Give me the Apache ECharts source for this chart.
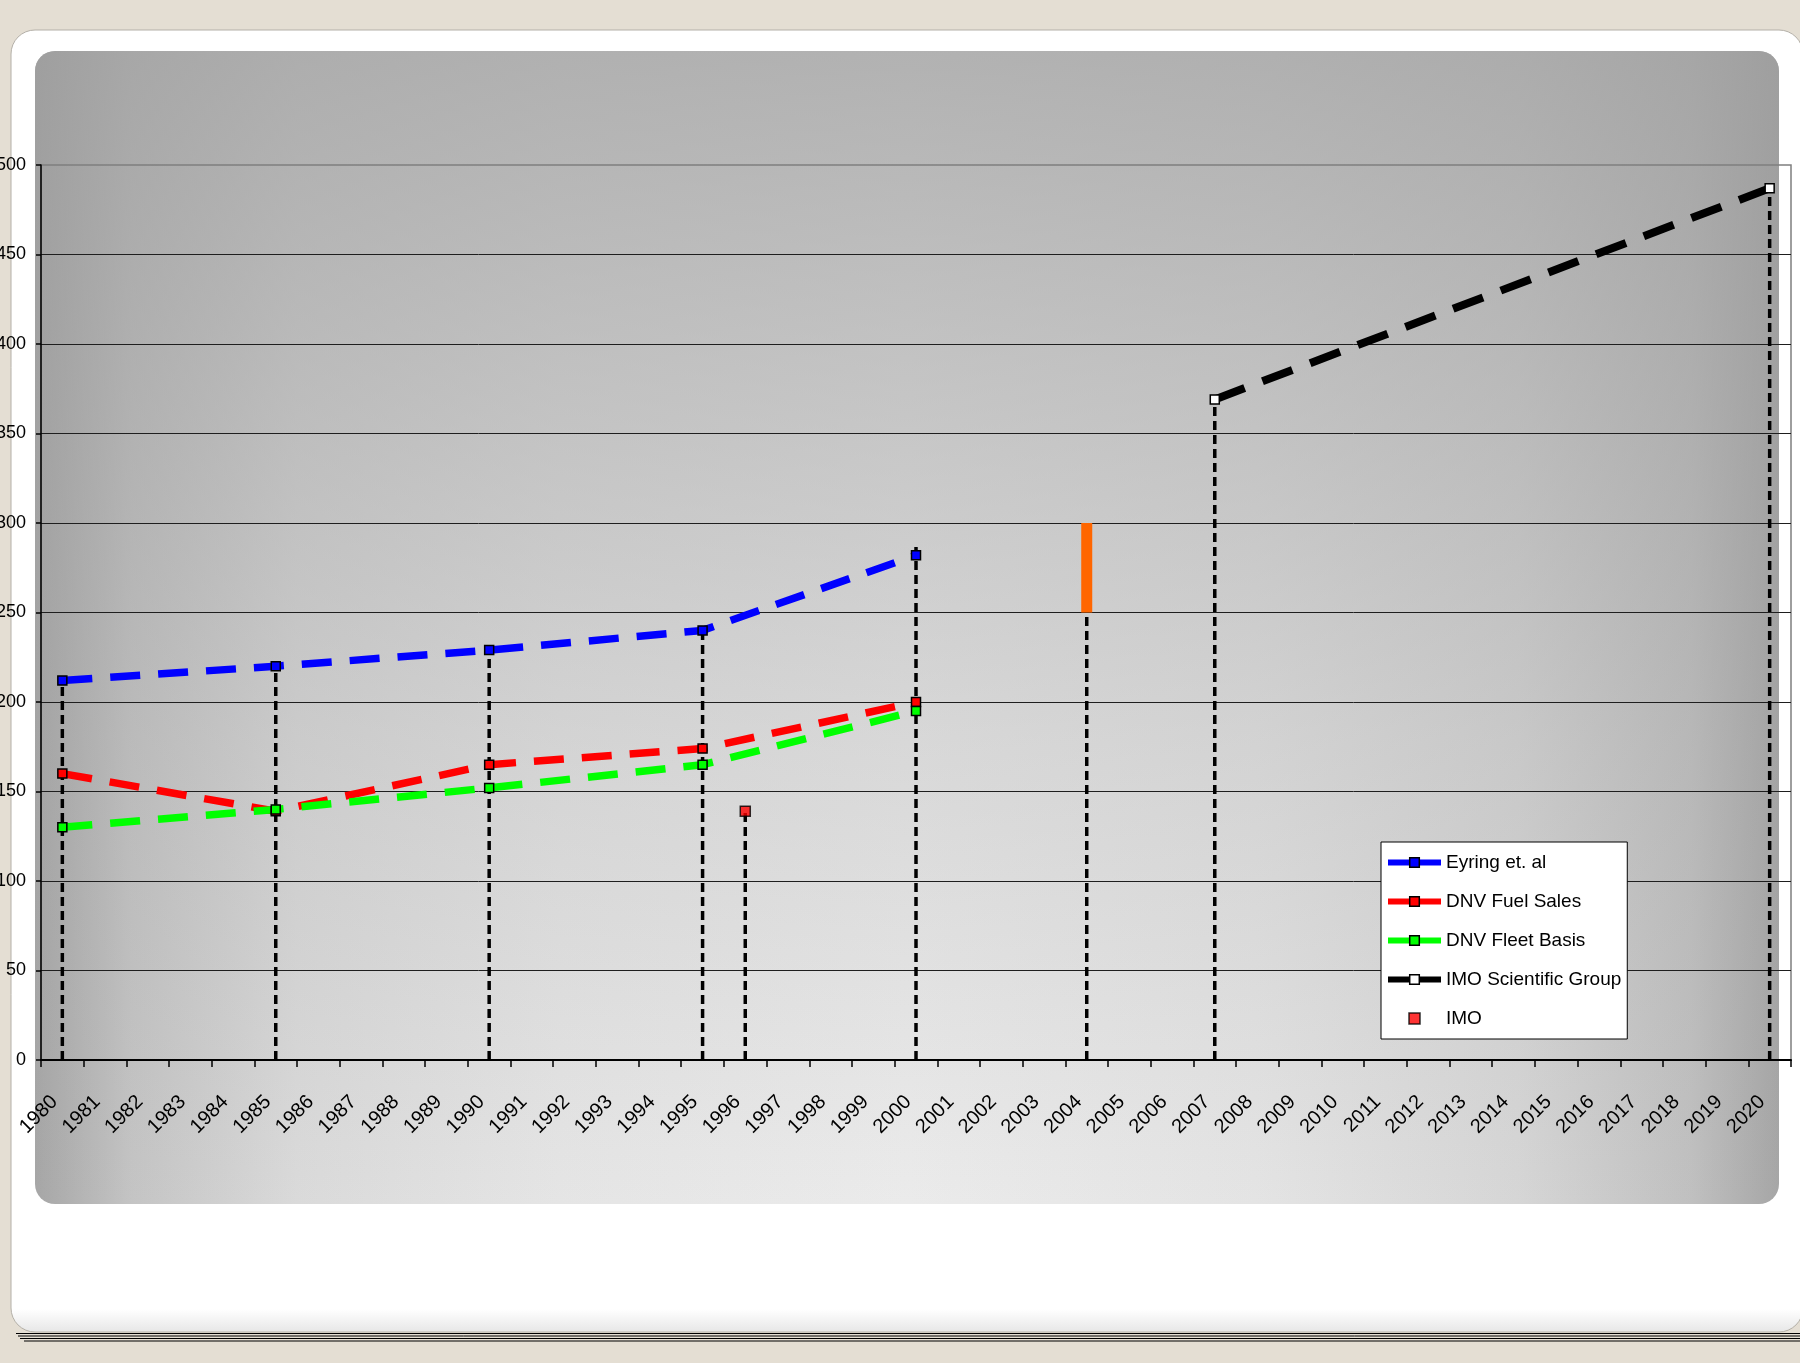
<!DOCTYPE html>
<html><head><meta charset="utf-8">
<script src="https://cdn.jsdelivr.net/npm/echarts@6/dist/echarts.min.js"></script>
<style>html,body{margin:0;padding:0;background:#e4ded3;}#c{width:1800px;height:1363px;}</style>
</head><body><div id="c"></div>
<script>
// ---- data ----
const years = ['1980','1981','1982','1983','1984','1985','1986','1987','1988','1989','1990','1991','1992','1993','1994','1995','1996','1997','1998','1999','2000','2001','2002','2003','2004','2005','2006','2007','2008','2009','2010','2011','2012','2013','2014','2015','2016','2017','2018','2019','2020'];
const studyYears = ['1980','1985','1990','1995','2000'];
const eyring = [212, 220, 229, 240, 282];
const dnvFuelSales = [160, 139, 165, 174, 200];
const dnvFleetBasis = [130, 140, 152, 165, 195];
const imoSciYears = ['2007','2020'];
const imoSci = [369, 487];
const imoYears = ['1996'];
const imo = [139];
const imoRangeYears = ['2004','2004'];
const imoRange = [250, 300];
const dropYears = ['1980','1985','1990','1995','1996','2000','2004','2007','2020'];
const dropTops = [213, 220, 231, 241, 139, 289, 250, 369, 487];
const yMin = 0, yMax = 500, yStep = 50;

// ---- chart ----
const chart = echarts.init(document.getElementById('c'), null, {renderer: 'canvas'});
const sans = "'Liberation Sans',Arial,sans-serif";
const pairs = (xs, vs) => xs.map((x, i) => [x, vs[i]]);

const dropSeries = dropYears.map((y, i) => ({
  type: 'line', name: 'drop' + i, data: [[y, 0], [y, dropTops[i]]],
  symbol: 'none', silent: true, z: 2,
  lineStyle: {color: '#000', width: 3.5, type: [9, 5], cap: 'butt'}
}));

function dataLine(name, xs, vs, color, fill, dash, width) {
  return {
    type: 'line', name: name, data: pairs(xs, vs), z: 3,
    symbol: 'rect', symbolSize: 9, showAllSymbol: true,
    lineStyle: {color: color, width: width, type: dash, cap: 'butt'},
    itemStyle: {color: fill, borderColor: '#000', borderWidth: 1.5}
  };
}

const bgGraphics = [
  {type: 'rect', z: -20, silent: true, shape: {x: 11, y: 30, width: 1792, height: 1302, r: 24},
   style: {fill: new echarts.graphic.LinearGradient(0, 0, 0, 1, [
     {offset: 0, color: '#ffffff'}, {offset: 0.982, color: '#ffffff'}, {offset: 1, color: '#e6e6e6'}]),
     stroke: '#b4b0a8', lineWidth: 1}},
  {type: 'line', z: -21, silent: true, shape: {x1: 16, y1: 1333.5, x2: 1800, y2: 1333.5}, style: {stroke: '#000', lineWidth: 1}},
  {type: 'line', z: -21, silent: true, shape: {x1: 18, y1: 1336, x2: 1800, y2: 1336}, style: {stroke: '#000', lineWidth: 1}},
  {type: 'line', z: -21, silent: true, shape: {x1: 20, y1: 1338.5, x2: 1800, y2: 1338.5}, style: {stroke: '#000', lineWidth: 1}},
  {type: 'line', z: -21, silent: true, shape: {x1: 24, y1: 1341, x2: 1800, y2: 1341}, style: {stroke: '#000', lineWidth: 1}},
  {type: 'rect', z: -19, silent: true, shape: {x: 35, y: 51, width: 1744, height: 1153, r: 20},
   style: {fill: new echarts.graphic.LinearGradient(0, 0, 1, 0, [
     {offset: 0, color: '#a6a6a6'}, {offset: 0.055, color: '#c4c4c4'}, {offset: 0.15, color: '#dadada'},
     {offset: 0.3, color: '#e5e5e5'}, {offset: 0.5, color: '#ebebeb'}, {offset: 0.7, color: '#e4e4e4'},
     {offset: 0.85, color: '#d6d6d6'}, {offset: 0.95, color: '#c0c0c0'}, {offset: 1, color: '#a6a6a6'}])}},
  {type: 'rect', z: -18, silent: true, shape: {x: 35, y: 51, width: 1744, height: 1153, r: 20},
   style: {fill: new echarts.graphic.LinearGradient(0, 0, 0, 1, [
     {offset: 0, color: 'rgba(156,156,156,0.72)'}, {offset: 0.6, color: 'rgba(156,156,156,0.24)'}, {offset: 1, color: 'rgba(156,156,156,0)'}])}}
];

const option = {
  animation: false,
  backgroundColor: '#e4ded3',
  graphic: bgGraphics,
  grid: {left: 41, right: 9, top: 165, bottom: 303, show: true, borderColor: '#7f7f7f', borderWidth: 1.5,
         backgroundColor: 'transparent', containLabel: false, outerBoundsMode: 'none'},
  legend: {
    orient: 'vertical', left: 1381, top: 842,
    data: ['Eyring et. al', 'DNV Fuel Sales', 'DNV Fleet Basis', 'IMO Scientific Group',
           {name: 'IMO', icon: 'path://M0,0M53,12M21,0.5h11v11h-11z'}],
    backgroundColor: '#ffffff', borderColor: '#000', borderWidth: 1,
    padding: [11, 6, 11, 4], itemGap: 20, itemWidth: 53, itemHeight: 12,
    lineStyle: {type: 'solid', width: 6},
    itemStyle: {borderColor: '#000', borderWidth: 1.5},
    textStyle: {fontFamily: sans, fontSize: 19, color: '#000'}
  },
  xAxis: {
    type: 'category', data: years, boundaryGap: true,
    axisLine: {lineStyle: {color: '#000', width: 2}},
    axisTick: {show: true, length: 7, interval: 0, lineStyle: {color: '#000', width: 1.5}},
    axisLabel: {interval: 0, rotate: 45, margin: 31, padding: [0, 11, 0, 0], fontSize: 20, color: '#000', fontFamily: sans},
    splitLine: {show: false}
  },
  yAxis: {
    type: 'value', min: yMin, max: yMax, interval: yStep,
    axisLine: {show: true, lineStyle: {color: '#000', width: 1.5}},
    axisTick: {show: true, length: 5, lineStyle: {color: '#000', width: 1.5}},
    axisLabel: {margin: 15, fontSize: 18, color: '#000', fontFamily: sans},
    splitLine: {show: true, showMaxLine: false, lineStyle: {color: '#1e1e1e', width: 1}}
  },
  series: [
    ...dropSeries,
    {type: 'line', name: 'IMO range', data: pairs(imoRangeYears, imoRange), symbol: 'none', z: 3,
     lineStyle: {color: '#ff6600', width: 11, cap: 'butt'}},
    dataLine('Eyring et. al', studyYears, eyring, '#0000ff', '#0000ff', [30, 18], 7.5),
    dataLine('DNV Fuel Sales', studyYears, dnvFuelSales, '#ff0000', '#ff0000', [30, 18], 7.5),
    dataLine('DNV Fleet Basis', studyYears, dnvFleetBasis, '#00ff00', '#00ff00', [30, 18], 7.5),
    dataLine('IMO Scientific Group', imoSciYears, imoSci, '#000000', '#ffffff', [32, 19], 8),
    {type: 'scatter', name: 'IMO', data: pairs(imoYears, imo), symbol: 'rect', symbolSize: 10, z: 4,
     itemStyle: {color: '#ff0000', borderColor: '#000', borderWidth: 1.5}}
  ]
};
chart.setOption(option);
</script>
</body></html>
